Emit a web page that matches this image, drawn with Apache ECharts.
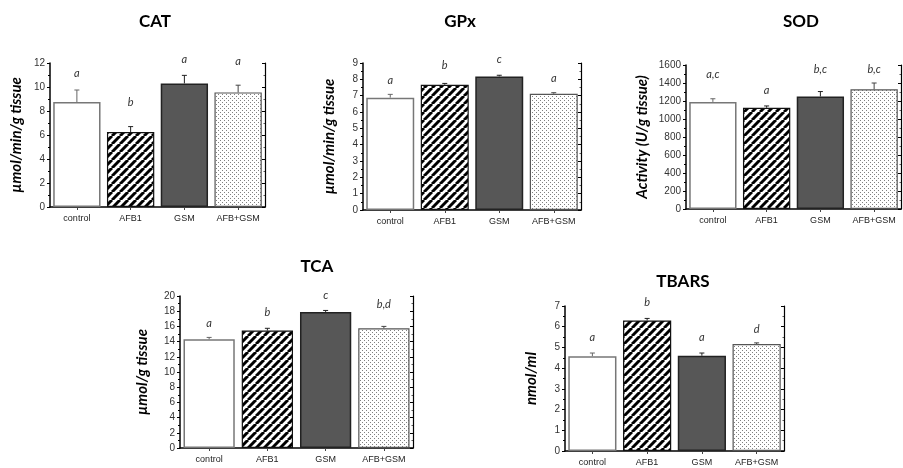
<!DOCTYPE html>
<html>
<head>
<meta charset="utf-8">
<script src="https://cdn.jsdelivr.net/npm/echarts@6/dist/echarts.min.js"></script>
<style>html,body{margin:0;padding:0;background:#fff}#c{width:903px;height:468px}</style>
</head>
<body>
<div id="c"></div>
<script>
// ---- data ----
const categories = ['control', 'AFB1', 'GSM', 'AFB+GSM'];

const catValues = [8.75, 6.25, 10.3, 9.55];
const catErr = [1.0, 0.45, 0.67, 0.6];
const catLetters = ['a', 'b', 'a', 'a'];
const catLetterY = [11.1, 8.7, 12.3, 12.1];

const gpxValues = [6.88, 7.67, 8.18, 7.12];
const gpxErr = [0.2, 0.08, 0.07, 0.06];
const gpxLetters = ['a', 'b', 'c', 'a'];
const gpxLetterY = [7.95, 8.85, 9.2, 8.05];

const sodValues = [1190, 1125, 1250, 1330];
const sodErr = [35, 20, 55, 70];
const sodLetters = ['a,c', 'a', 'b,c', 'b,c'];
const sodLetterY = [1490, 1315, 1545, 1555];

const tcaValues = [14.3, 15.45, 17.9, 15.75];
const tcaErr = [0.25, 0.3, 0.2, 0.25];
const tcaLetters = ['a', 'b', 'c', 'b,d'];
const tcaLetterY = [16.4, 17.9, 20.1, 18.9];

const tbarsValues = [4.58, 6.3, 4.6, 5.16];
const tbarsErr = [0.15, 0.1, 0.13, 0.06];
const tbarsLetters = ['a', 'b', 'a', 'd'];
const tbarsLetterY = [5.5, 7.15, 5.5, 5.87];

// ---- patterns ----
function stripeCanvas() {
  const T = 8, c = document.createElement('canvas');
  c.width = T; c.height = T;
  const g = c.getContext('2d');
  g.fillStyle = '#fff'; g.fillRect(0, 0, T, T);
  g.strokeStyle = '#000'; g.lineWidth = 3;
  for (const x0 of [-T, 0, T]) {
    g.beginPath(); g.moveTo(x0, T); g.lineTo(x0 + T, 0); g.stroke();
  }
  return c;
}
function dotCanvas() {
  const T = 4, c = document.createElement('canvas');
  c.width = T; c.height = T;
  const g = c.getContext('2d');
  g.fillStyle = '#fff'; g.fillRect(0, 0, T, T);
  g.fillStyle = '#808080';
  g.fillRect(0, 0, 1, 1); g.fillRect(2, 2, 1, 1);
  return c;
}
const stripe = { image: stripeCanvas(), repeat: 'repeat' };
const dots = { image: dotCanvas(), repeat: 'repeat' };

const barStyles = [
  { color: '#ffffff', borderColor: '#777', borderWidth: 1.5 },
  { color: stripe, borderColor: '#111', borderWidth: 1.2 },
  { color: '#575757', borderColor: '#222', borderWidth: 1.5 },
  { color: dots, borderColor: '#555', borderWidth: 1.2 }
];
const errColors = ['#666', '#222', '#222', '#444'];

const panels = [
  { title: 'CAT', yName: 'µmol/min/g tissue', v: catValues, e: catErr, l: catLetters, ly: catLetterY, max: 12, interval: 2,
    grid: { left: 50, top: 63, width: 215, height: 144 }, nameGap: 26 },
  { title: 'GPx', yName: 'µmol/min/g tissue', v: gpxValues, e: gpxErr, l: gpxLetters, ly: gpxLetterY, max: 9, interval: 1,
    grid: { left: 363, top: 63, width: 218, height: 147 }, nameGap: 26 },
  { title: 'SOD', yName: 'Activity (U/g tissue)', v: sodValues, e: sodErr, l: sodLetters, ly: sodLetterY, max: 1600, interval: 200,
    grid: { left: 686, top: 65, width: 215, height: 144 }, nameGap: 36 },
  { title: 'TCA', yName: 'µmol/g tissue', v: tcaValues, e: tcaErr, l: tcaLetters, ly: tcaLetterY, max: 20, interval: 2,
    grid: { left: 180, top: 296, width: 233, height: 152 }, nameGap: 30 },
  { title: 'TBARS', yName: 'nmol/ml', v: tbarsValues, e: tbarsErr, l: tbarsLetters, ly: tbarsLetterY, max: 7, interval: 1,
    grid: { left: 565, top: 306, width: 219, height: 145 }, nameGap: 26 }
];
const titlePos = [[150, 8], [455, 8], [796, 8], [312, 253], [678, 268]];

const option = { animation: false, title: [], grid: [], xAxis: [], yAxis: [], series: [] };

panels.forEach((p, i) => {
  option.title.push({
    text: p.title, left: titlePos[i][0], top: titlePos[i][1], textAlign: 'center',
    textStyle: { fontFamily: 'Lato', fontWeight: 'bold', fontSize: 17, color: '#000' }
  });
  option.grid.push(Object.assign({ containLabel: false }, p.grid));
  option.xAxis.push({
    type: 'category', gridIndex: i, data: categories,
    axisLine: { lineStyle: { color: '#000', width: 1.5 } },
    axisTick: { show: true, alignWithLabel: true, interval: 0, length: 3, lineStyle: { color: '#444' } },
    axisLabel: { interval: 0, color: '#222', fontSize: 9, fontFamily: 'Liberation Sans', margin: 7 },
    splitLine: { show: false }
  });
  const yl = 2 * i;
  option.yAxis.push({
    type: 'value', gridIndex: i, min: 0, max: p.max, interval: p.interval, position: 'left',
    name: p.yName, nameLocation: 'middle', nameGap: p.nameGap, nameRotate: 90,
    nameTextStyle: { fontFamily: 'Lato', fontWeight: 'bold', fontStyle: 'italic', fontSize: 15, color: '#000' },
    axisLine: { show: true, lineStyle: { color: '#000', width: 1.5 } },
    axisTick: { show: true, length: 3, lineStyle: { color: '#000' } },
    minorTick: { show: true, splitNumber: 2, length: 2, lineStyle: { color: '#000' } },
    axisLabel: { color: '#333', fontSize: 10, fontFamily: 'Liberation Sans', margin: 5, formatter: v => String(v) },
    splitLine: { show: false }, minorSplitLine: { show: false }
  });
  option.yAxis.push({
    type: 'value', gridIndex: i, min: 0, max: p.max, interval: p.interval, position: 'right',
    axisLine: { show: true, lineStyle: { color: '#000', width: 1.2 } },
    axisTick: { show: true, inside: true, length: 3, lineStyle: { color: '#000' } },
    minorTick: { show: true, splitNumber: 2, length: 1.5, lineStyle: { color: '#555' } },
    axisLabel: { show: false }, splitLine: { show: false }
  });
  option.series.push({
    type: 'bar', xAxisIndex: i, yAxisIndex: yl, barCategoryGap: '12%',
    data: p.v.map((val, k) => ({ value: val, itemStyle: barStyles[k] })),
    z: 2
  });
  option.series.push({
    type: 'custom', xAxisIndex: i, yAxisIndex: yl, z: 3, clip: false,
    data: p.v.map((val, k) => [k, val, val + p.e[k]]),
    renderItem: function (params, api) {
      const k = api.value(0);
      const a = api.coord([k, api.value(1)]);
      const b = api.coord([k, api.value(2)]);
      const st = { stroke: errColors[k], lineWidth: 1 };
      return {
        type: 'group', children: [
          { type: 'line', shape: { x1: a[0], y1: a[1], x2: b[0], y2: b[1] }, style: st },
          { type: 'line', shape: { x1: b[0] - 2.5, y1: b[1], x2: b[0] + 2.5, y2: b[1] }, style: st }
        ]
      };
    }
  });
  option.series.push({
    type: 'custom', xAxisIndex: i, yAxisIndex: yl, z: 4, clip: false, silent: true,
    data: p.ly.map((y, k) => [k, y]),
    renderItem: function (params, api) {
      const pt = api.coord([api.value(0), api.value(1)]);
      return {
        type: 'text', x: pt[0], y: pt[1],
        style: {
          text: p.l[params.dataIndex], align: 'center', verticalAlign: 'middle',
          font: 'italic 11px Lato', fill: '#333'
        }
      };
    }
  });
});

const chart = echarts.init(document.getElementById('c'), null, { renderer: 'canvas' });
chart.setOption(option);
</script>
</body>
</html>
